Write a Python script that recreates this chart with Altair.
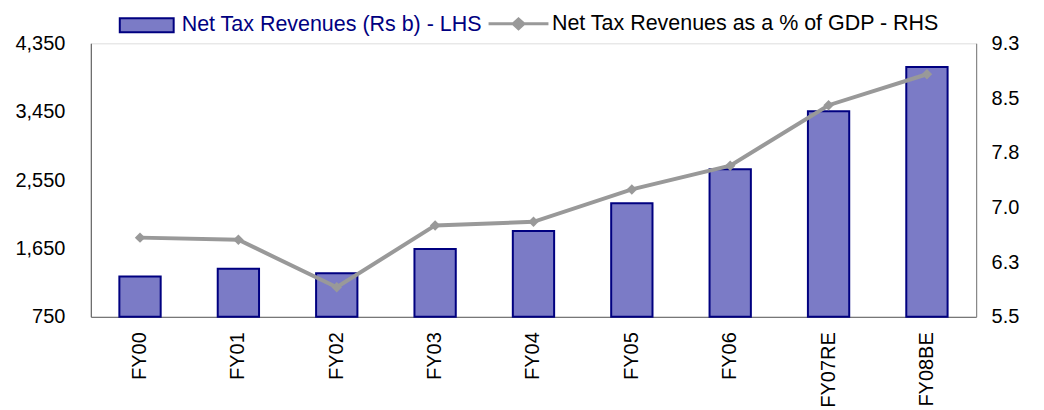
import altair as alt
import pandas as pd

categories = ["FY00", "FY01", "FY02", "FY03", "FY04", "FY05", "FY06", "FY07RE", "FY08BE"]
revenues = [1279, 1381, 1324, 1643, 1880, 2244, 2691, 3457, 4039]
pct_gdp = [6.60, 6.57, 5.91, 6.77, 6.82, 7.27, 7.60, 8.44, 8.87]
left_ticks = [750, 1650, 2550, 3450, 4350]
right_ticks = [5.5, 6.26, 7.02, 7.78, 8.54, 9.3]
bar_name = "Net Tax Revenues (Rs b) - LHS"
line_name = "Net Tax Revenues as a % of GDP - RHS"

df = pd.DataFrame({
    "cat": categories,
    "rev": revenues,
    "pct": pct_gdp,
    "s1": [bar_name] * len(categories),
    "s2": [line_name] * len(categories),
})

FONT = "Liberation Sans"
FS = 20
LFS = 21.5

x = alt.X("cat:N", sort=categories, title=None,
          scale=alt.Scale(paddingInner=0.58, paddingOuter=0.29),
          axis=alt.Axis(labelAngle=-90, labelFontSize=FS, labelFont=FONT, labelColor="black",
                        ticks=False, labelPadding=15, domainColor="#777777", domainWidth=1.2))

bars = alt.Chart(df).mark_bar(stroke="#000080", strokeWidth=2).encode(
    x=x,
    y=alt.Y("rev:Q", title=None,
            scale=alt.Scale(domain=[750, 4350], zero=False, nice=False),
            axis=alt.Axis(values=left_ticks, format=",.0f", labelFontSize=FS, labelFont=FONT,
                          labelColor="black", ticks=False, grid=False, labelPadding=26,
                          domainColor="#666666", domainWidth=1.2)),
    y2=alt.datum(750),
    fill=alt.Fill("s1:N", scale=alt.Scale(domain=[bar_name], range=["#7b7bc6"]),
                  legend=alt.Legend(title=None, orient="none", legendX=28, legendY=-46,
                                    symbolType="M-1,-0.26L1,-0.26L1,0.26L-1,0.26Z",
                                    symbolSize=2916, symbolStrokeColor="#000080",
                                    symbolStrokeWidth=2, symbolOpacity=1,
                                    labelFontSize=LFS, labelFont=FONT, labelColor="#000080",
                                    labelOffset=7, labelLimit=400)),
)

yr = alt.Y("pct:Q", title=None,
           scale=alt.Scale(domain=[5.5, 9.3], zero=False, nice=False),
           axis=alt.Axis(orient="right", values=right_ticks, format=".1f", labelFontSize=FS,
                         labelFont=FONT, labelColor="black", ticks=False, grid=False,
                         labelPadding=15, domainColor="#888888", domainWidth=1.2))

line = alt.Chart(df).mark_line(strokeWidth=4).encode(
    x=x,
    y=yr,
    stroke=alt.Stroke("s2:N", scale=alt.Scale(domain=[line_name], range=["#999999"]),
                      legend=alt.Legend(title=None, orient="none", legendX=397, legendY=-51,
                                        symbolType="M-1,0L1,0M-0.18,0L0,-0.16L0.18,0L0,0.16Z",
                                        symbolSize=3600, symbolStrokeWidth=3,
                                        symbolFillColor="#999999", symbolOpacity=1,
                                        labelFontSize=LFS, labelFont=FONT, labelColor="black",
                                        labelOffset=2, labelLimit=500)),
)

points = alt.Chart(df).mark_point(shape="diamond", filled=True, size=110, color="#999999",
                                  opacity=1).encode(x=x, y=yr)

chart = alt.layer(bars, alt.layer(line, points)).resolve_scale(
    y="independent", fill="independent", stroke="independent"
).properties(
    width=887, height=274,
    autosize=alt.AutoSizeParams(type="none"),
    padding={"left": 83, "top": 35, "right": 60, "bottom": 92},
).configure_view(stroke=None).configure(background="white")

chart.save("out.html", embed_options={"renderer": "svg", "actions": False})
